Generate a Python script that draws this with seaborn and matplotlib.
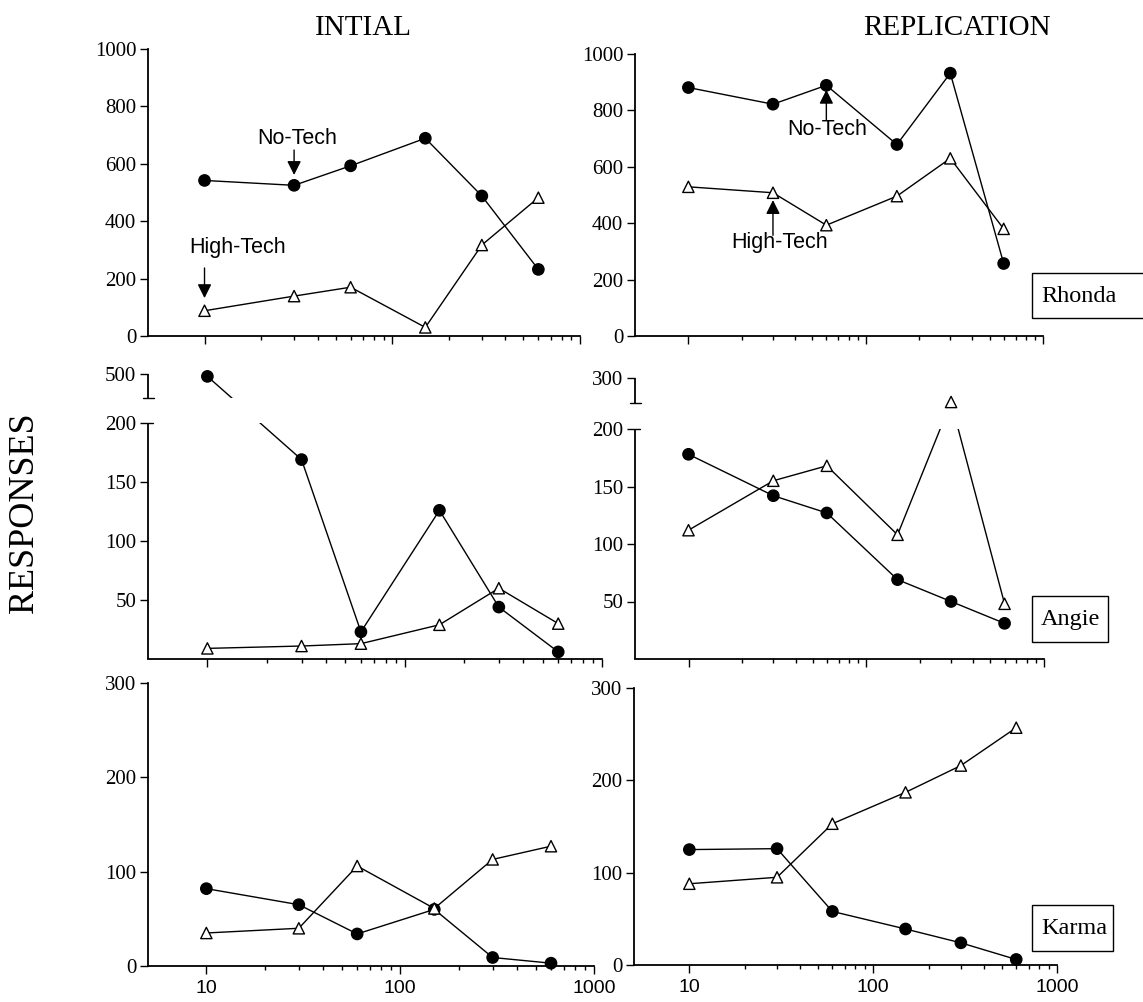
import numpy as np
import pandas as pd
import matplotlib
matplotlib.use("Agg")
import matplotlib.pyplot as plt
import seaborn as sns
from matplotlib.patches import Rectangle
from matplotlib.ticker import FixedLocator, NullFormatter

# ---------------- data ----------------
x_vals = [10, 30, 60, 150, 300, 600]

rhonda_init_no = [542, 525, 593, 689, 488, 232]
rhonda_init_high = [88, 139, 170, 30, 317, 482]
rhonda_rep_no = [881, 822, 889, 679, 932, 257]
rhonda_rep_high = [529, 508, 393, 496, 630, 380]

angie_init_no = [490, 169, 23, 126, 44, 6]
angie_init_high = [9, 11, 13, 29, 60, 30]
angie_rep_no = [178, 142, 127, 69, 50, 31]
angie_rep_high = [112, 155, 168, 108, 252, 48]

karma_init_no = [82, 65, 34, 60, 9, 3]
karma_init_high = [35, 40, 106, 61, 113, 127]
karma_rep_no = [125, 126, 58, 39, 24, 6]
karma_rep_high = [88, 95, 153, 187, 216, 257]

x_tick_labels = ["10", "100", "1000"]
col_titles = ["INTIAL", "REPLICATION"]
subjects = ["Rhonda", "Angie", "Karma"]

# ---------------- style ----------------
sns.set_style("ticks")
SERIF = ["Liberation Serif", "DejaVu Serif"]
SANS = ["Liberation Sans", "DejaVu Sans"]
plt.rcParams["font.family"] = SERIF
plt.rcParams["text.color"] = "black"
plt.rcParams["axes.labelcolor"] = "black"
plt.rcParams["xtick.color"] = "black"
plt.rcParams["ytick.color"] = "black"
plt.rcParams["axes.edgecolor"] = "black"

W, H = 1143, 1002
fig = plt.figure(figsize=(W / 100, H / 100), dpi=100)


def px_axes(l, t, r, b):
    return fig.add_axes([l / W, 1 - b / H, (r - l) / W, (b - t) / H])


def draw_series(ax, no, high):
    df = pd.DataFrame({
        "x": x_vals + x_vals,
        "y": list(no) + list(high),
        "cond": ["No-Tech"] * len(x_vals) + ["High-Tech"] * len(x_vals),
    })
    sns.lineplot(data=df, x="x", y="y", hue="cond",
                 palette={"No-Tech": "black", "High-Tech": "black"},
                 estimator=None, errorbar=None, lw=1.0, legend=False,
                 ax=ax, zorder=2)
    sns.scatterplot(data=df, x="x", y="y", hue="cond", style="cond",
                    markers={"No-Tech": "o", "High-Tech": "^"},
                    palette={"No-Tech": "black", "High-Tech": "white"},
                    edgecolor="black", linewidth=1.0, s=66, legend=False,
                    ax=ax, zorder=4, clip_on=False)


def style_x(ax, bottom_row):
    ax.set_xscale("log")
    ax.set_xlim(5, 1000)
    ax.xaxis.set_major_locator(FixedLocator([10, 100, 1000]))
    ax.xaxis.set_minor_locator(FixedLocator(
        [20, 30, 40, 50, 60, 70, 80, 90, 200, 300, 400, 500, 600, 700, 800, 900]))
    ax.xaxis.set_minor_formatter(NullFormatter())
    if bottom_row:
        ax.set_xticks([10, 100, 1000], labels=x_tick_labels)
        for lab in ax.get_xticklabels():
            lab.set_fontfamily(SANS)
            lab.set_fontsize(14)
            lab.set_color("black")
    else:
        ax.tick_params(axis="x", which="both", labelbottom=False)
    ax.tick_params(axis="x", which="major", length=5.5, width=1.0, pad=4.5,
                   direction="out", color="black")
    ax.tick_params(axis="x", which="minor", length=3, width=1.0,
                   direction="out", color="black")
    ax.set_xlabel("")
    ax.set_ylabel("")
    sns.despine(ax=ax)
    for s in ("left", "bottom"):
        ax.spines[s].set_linewidth(1.3)
        ax.spines[s].set_color("black")


def style_y(ax, ticks):
    ax.set_yticks(ticks)
    ax.set_yticklabels([str(t) for t in ticks])
    for lab in ax.get_yticklabels():
        lab.set_fontfamily(SERIF)
        lab.set_fontsize(15)
        lab.set_color("black")
    ax.tick_params(axis="y", length=5.5, width=1.0, pad=3, direction="out",
                   color="black")


def make_break(lo_top, up_lo, up_hi, px_lower, px_gap, px_upper):
    p = px_lower / lo_top
    a = px_gap / (up_lo - lo_top)
    b = px_upper / (up_hi - up_lo)
    v1 = lo_top * p
    v2 = v1 + px_gap

    def fwd(y):
        y = np.asarray(y, dtype=float)
        return np.where(y <= lo_top, y * p,
                        np.where(y <= up_lo, v1 + (y - lo_top) * a,
                                 v2 + (y - up_lo) * b))

    def inv(v):
        v = np.asarray(v, dtype=float)
        return np.where(v <= v1, v / p,
                        np.where(v <= v2, lo_top + (v - v1) / a,
                                 up_lo + (v - v2) / b))
    return fwd, inv


def broken_axis(ax, up_lo, up_hi, px_lower, px_gap, px_upper, width_px):
    fwd, inv = make_break(200, up_lo, up_hi, px_lower, px_gap, px_upper)
    ax.set_yscale("function", functions=(fwd, inv))
    ax.set_ylim(0, up_hi)
    style_y(ax, [50, 100, 150, 200, up_hi])
    ax.spines["left"].set_visible(False)
    tr = ax.get_yaxis_transform()
    ax.plot([0, 0], [0, 200], transform=tr, color="black", lw=1.3,
            clip_on=False, zorder=5, solid_capstyle="butt")
    ax.plot([0, 0], [up_lo, up_hi], transform=tr, color="black", lw=1.3,
            clip_on=False, zorder=5, solid_capstyle="butt")
    # inward part of the 200 tick and the cap under the upper segment
    ax.plot([0, 4.5 / width_px], [200, 200], transform=tr, color="black",
            lw=1.0, clip_on=False, zorder=5)
    ax.plot([-5.5 / width_px, 5.5 / width_px], [up_lo, up_lo], transform=tr,
            color="black", lw=1.0, clip_on=False, zorder=5)
    # hide the data lines inside the gap
    ax.add_patch(Rectangle((0, 200), 1, up_lo - 200, transform=tr,
                           facecolor="white", edgecolor="none", zorder=3))


def arrow(ax, x, y_tail, y_tip):
    ax.annotate("", xy=(x, y_tip), xytext=(x, y_tail),
                arrowprops=dict(arrowstyle="-|>,head_length=0.4,head_width=0.2",
                                color="black", lw=1.0, mutation_scale=21,
                                shrinkA=0, shrinkB=0), zorder=6)


def label(ax, x, y, s):
    ax.text(x, y, s, ha="center", va="baseline", fontsize=15.5,
            fontfamily=SANS, color="black", zorder=6)


# ---------------- top row: Rhonda ----------------
ax = px_axes(148, 49, 580, 336)
draw_series(ax, rhonda_init_no, rhonda_init_high)
style_x(ax, False)
ax.set_ylim(0, 1000)
style_y(ax, [0, 200, 400, 600, 800, 1000])
arrow(ax, 30, 648, 561)
label(ax, 31, 669, "No-Tech")
arrow(ax, 10, 237, 132)
label(ax, 15, 290, "High-Tech")

ax = px_axes(635, 54, 1043, 336)
draw_series(ax, rhonda_rep_no, rhonda_rep_high)
style_x(ax, False)
ax.set_ylim(0, 1000)
style_y(ax, [0, 200, 400, 600, 800, 1000])
arrow(ax, 60, 766, 873)
label(ax, 61, 712, "No-Tech")
arrow(ax, 30, 357, 482)
label(ax, 32.5, 311, "High-Tech")

# ---------------- middle row: Angie (broken axes) ----------------
ax = px_axes(148, 374, 602, 659)
draw_series(ax, angie_init_no, angie_init_high)
style_x(ax, False)
broken_axis(ax, 400, 500, 236, 25, 24, 454)

ax = px_axes(635, 378, 1044, 659)
draw_series(ax, angie_rep_no, angie_rep_high)
style_x(ax, False)
broken_axis(ax, 250, 300, 230, 26, 25, 409)

# ---------------- bottom row: Karma ----------------
ax = px_axes(148, 683, 594, 966)
draw_series(ax, karma_init_no, karma_init_high)
style_x(ax, True)
ax.set_ylim(0, 300)
style_y(ax, [0, 100, 200, 300])

ax = px_axes(634, 688, 1057, 965)
draw_series(ax, karma_rep_no, karma_rep_high)
style_x(ax, True)
ax.set_ylim(0, 300)
style_y(ax, [0, 100, 200, 300])

# ---------------- figure texts ----------------
fig.text(363 / W, 1 - 35 / H, col_titles[0], ha="center", va="baseline",
         fontsize=21, fontfamily=SERIF)
fig.text(957 / W, 1 - 35 / H, col_titles[1], ha="center", va="baseline",
         fontsize=21, fontfamily=SERIF)
fig.text(25 / W, 1 - 513 / H, "RESPONSES", rotation=90, ha="center",
         va="center", fontsize=26, fontfamily=SERIF)

boxes = [(1032, 273, 1150, 318), (1032, 596, 1108, 642), (1032, 905, 1113, 951)]
for name, (l, t, r, b) in zip(subjects, boxes):
    fig.add_artist(Rectangle((l / W, 1 - b / H), (r - l) / W, (b - t) / H,
                             transform=fig.transFigure, fill=False,
                             edgecolor="black", lw=1.0))
    fig.text(1041 / W, 1 - ((t + b) / 2 + 1) / H, name, ha="left", va="center",
             fontsize=17.5, fontfamily=SERIF)

fig.savefig("out.png", dpi=100, facecolor="white")
